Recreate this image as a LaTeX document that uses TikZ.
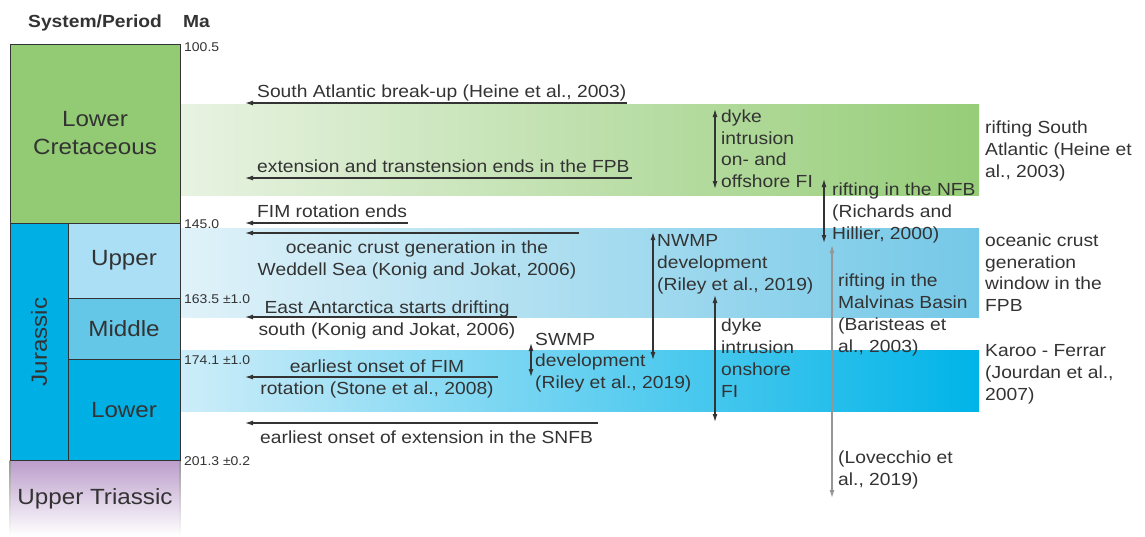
\documentclass[tikz,border=0pt]{standalone}
\usepackage{fontspec}
\setmainfont{Liberation Sans}[FakeStretch=1.1]
\usetikzlibrary{arrows.meta}

\definecolor{ink}{RGB}{51,51,51}
\definecolor{cretgreen}{RGB}{146,203,116}
\definecolor{jurblue}{RGB}{0,176,228}
\definecolor{upjur}{RGB}{170,223,246}
\definecolor{midjur}{RGB}{100,199,232}
\definecolor{trias}{RGB}{188,158,204}
\definecolor{greenL}{RGB}{232,243,226}
\definecolor{greenR}{RGB}{150,205,120}
\definecolor{paleL}{RGB}{224,242,249}
\definecolor{paleR}{RGB}{116,200,231}
\definecolor{blueL}{RGB}{205,237,249}
\definecolor{blueR}{RGB}{0,180,232}
\definecolor{lightline}{RGB}{150,150,150}

\newcommand{\lbl}{\fontsize{17.5}{21.7}\selectfont}

\tikzset{
	period/.style = {draw=ink, line width=1pt, inner sep=0pt, text=ink, align=center,
		font=\fontsize{22}{28}\selectfont},
	age/.style    = {anchor=base west, inner sep=0pt, text=ink, font=\fontsize{12.7}{15}\selectfont},
	head/.style   = {anchor=base west, inner sep=0pt, text=ink, font=\bfseries\fontsize{17.5}{21}\selectfont},
	event/.style  = {anchor=base, inner sep=0pt, text=ink, align=center, font=\lbl},
	note/.style   = {anchor=base west, inner sep=0pt, text=ink, align=left, font=\lbl},
	span/.style   = {<->, line width=1.2pt, draw=ink},
	marker/.style = {->, line width=1.2pt, draw=ink}
}

\begin{document}
\begin{tikzpicture}[x=1pt, y=-1pt, >={Latex[length=8pt,width=5pt]}]
	\useasboundingbox (0,0) rectangle (1145,536);

	% time windows
	\shade[left color=greenL, right color=greenR] (180,104) rectangle (979,195);
	\shade[left color=paleL, right color=paleR] (180,228) rectangle (979,317);
	\shade[left color=blueL, right color=blueR] (180,350) rectangle (979,411);

	% chronostratigraphic column
	\draw
	node at (28,27) [head] (sys) {System/Period}
	node at (183,27) [head] (ma) {Ma}
	node at (95,133.5) [period, fill=cretgreen, minimum width=170, minimum height=179] (cret) {Lower\\Cretaceous}
	node at (39,342) [period, fill=jurblue, rotate=90, minimum width=238, minimum height=58] (jur) {Jurassic}
	node at (124,260.5) [period, fill=upjur, minimum width=112, minimum height=75] (upper) {Upper}
	node at (124,328.5) [period, fill=midjur, minimum width=112, minimum height=61] (middle) {Middle}
	node at (124,410) [period, fill=jurblue, minimum width=112, minimum height=102] (lower) {Lower}
	node at (95,498.5) [period, draw=none, top color=trias, bottom color=white, minimum width=170, minimum height=75] (tri) {Upper Triassic};
	\shade[top color=lightline, bottom color=white] (tri.north west) rectangle ([xshift=1pt]tri.south west);
	\shade[top color=lightline, bottom color=white] ([xshift=-1pt]tri.north east) rectangle (tri.south east);
	\draw[ink, line width=1pt] (tri.north west) -- (tri.north east);

	\draw
	node at (184,51) [age] (a100) {100.5}
	node at (184,228) [age] (a145) {145.0}
	node at (184,303) [age] (a163) {163.5 ±1.0}
	node at (184,364) [age] (a174) {174.1 ±1.0}
	node at (184,465) [age] (a201) {201.3 ±0.2};

	% dated events
	\coordinate (sab-e) at (627,103);  \coordinate (sab-w) at (245,103);
	\coordinate (ext-e) at (632,178);  \coordinate (ext-w) at (245,178);
	\coordinate (fim-e) at (408,223);  \coordinate (fim-w) at (245,223);
	\coordinate (ocw-e) at (579,233);  \coordinate (ocw-w) at (245,233);
	\coordinate (eant-e) at (517,317); \coordinate (eant-w) at (245,317);
	\coordinate (fimo-e) at (498,377); \coordinate (fimo-w) at (245,377);
	\coordinate (snfb-e) at (598,423); \coordinate (snfb-w) at (245,423);

	\draw[marker] (sab-e) -- (sab-w);
	\draw[marker] (ext-e) -- (ext-w);
	\draw[marker] (fim-e) -- (fim-w);
	\draw[marker] (ocw-e) -- (ocw-w);
	\draw[marker] (eant-e) -- (eant-w);
	\draw[marker] (fimo-e) -- (fimo-w);
	\draw[marker] (snfb-e) -- (snfb-w);

	% base anchor of a two-line label sits on its last line
	\draw
	node at (257,97) [note] (sab) {South Atlantic break-up (Heine et al., 2003)}
	node at (257,172) [note] (ext) {extension and transtension ends in the FPB}
	node at (257,217) [note] (fim) {FIM rotation ends}
	node at (417,275) [event] (ocw) {oceanic crust generation in the\\Weddell Sea (Konig and Jokat, 2006)}
	node at (387,335) [event] (eant) {East Antarctica starts drifting\\south (Konig and Jokat, 2006)}
	node at (377,394) [event] (fimo) {earliest onset of FIM\\rotation (Stone et al., 2008)}
	node at (260,443) [note] (snfb) {earliest onset of extension in the SNFB};

	% durations
	\coordinate (dyo-n) at (715,109);  \coordinate (dyo-s) at (715,189);
	\coordinate (nfb-n) at (824,179);  \coordinate (nfb-s) at (824,243);
	\coordinate (nwmp-n) at (653,232); \coordinate (nwmp-s) at (653,360);
	\coordinate (swmp-n) at (531,343); \coordinate (swmp-s) at (531,377);
	\coordinate (dyon-n) at (715,295); \coordinate (dyon-s) at (715,422);
	\coordinate (mlv-n) at (832,245);  \coordinate (mlv-s) at (832,498);

	\draw[span] (dyo-n) -- (dyo-s);
	\draw[span] (nfb-n) -- (nfb-s);
	\draw[span] (nwmp-n) -- (nwmp-s);
	\draw[span] (swmp-n) -- (swmp-s);
	\draw[span] (dyon-n) -- (dyon-s);
	\draw[span, draw=lightline] (mlv-n) -- (mlv-s);

	\draw
	node at (721,187.5) [note] (dyo) {dyke\\intrusion\\on- and\\offshore FI}
	node at (832,239) [note] (nfb) {rifting in the NFB\\(Richards and\\Hillier, 2000)}
	node at (657,290) [note] (nwmp) {NWMP\\development\\(Riley et al., 2019)}
	node at (535,388.5) [note] (swmp) {SWMP\\development\\(Riley et al., 2019)}
	node at (721,397) [note] (dyon) {dyke\\intrusion\\onshore\\FI}
	node at (838,352) [note] (mlv) {rifting in the\\Malvinas Basin\\(Baristeas et\\al., 2003)}
	node at (838,485) [note] (lov) {(Lovecchio et\\al., 2019)}
	node at (985,177) [note] (rsa) {rifting South\\Atlantic (Heine et\\al., 2003)}
	node at (985,311.5) [note] (ocwin) {oceanic crust\\generation\\window in the\\FPB}
	node at (985,400) [note] (karoo) {Karoo - Ferrar\\(Jourdan et al.,\\2007)};
\end{tikzpicture}
\end{document}
